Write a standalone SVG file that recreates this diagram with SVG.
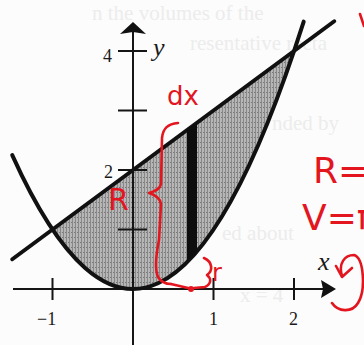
<svg xmlns="http://www.w3.org/2000/svg" width="364" height="345" viewBox="0 0 364 345">
<defs>
<style>
.axis{stroke:#151515;stroke-width:2;fill:none}
.curve{stroke:#111;stroke-width:4;fill:none;stroke-linecap:round}
.tick{stroke:#151515;stroke-width:2}
.lbl{font-family:"Liberation Serif",serif;font-size:18px;fill:#1a1a1a}
.var{font-family:"Liberation Serif",serif;font-style:italic;font-size:26px;fill:#1a1a1a}
.ghost{font-family:"Liberation Serif",serif;font-size:21px;fill:#ececec}
.red{font-family:"DejaVu Sans",sans-serif;fill:#e3161f}
.pen{stroke:#e3161f;stroke-width:2.6;fill:none;stroke-linecap:round;stroke-linejoin:round}
</style>
<pattern id="stipple" width="3" height="5" patternUnits="userSpaceOnUse">
<rect width="3" height="5" fill="#b6b6b6"/>
<rect x="0" y="0" width="1" height="5" fill="#888"/>
<rect x="2" y="2" width="1" height="1" fill="#777"/>
</pattern>
</defs>
<rect width="364" height="345" fill="#fcfcfc"/>
<g id="background-text">
<text class="ghost" x="92" y="20">n the volumes of the</text>
<text class="ghost" x="190" y="50">resentative recta</text>
<text class="ghost" x="272" y="130">nded by</text>
<text class="ghost" x="222" y="240">ed about</text>
<text class="ghost" x="240" y="302">x = 4</text>
</g>
<g id="region">
<path d="M52.5,229.5 Q173.25,408 294,51 Z" fill="url(#stipple)"/>
</g>
<g id="axes">
<line class="axis" x1="13" y1="289" x2="326" y2="289"/>
<polygon points="336,289 321,280 323,289 321,298" fill="#111"/>
<line class="axis" x1="133" y1="345" x2="133" y2="30"/>
<polygon points="133,22 120,34 133,32 146,34" fill="#111"/>
<line class="tick" x1="118" y1="51" x2="147" y2="51"/>
<line class="tick" x1="118" y1="110.5" x2="147" y2="110.5"/>
<line class="tick" x1="118" y1="170" x2="147" y2="170"/>
<line class="tick" x1="118" y1="229.5" x2="147" y2="229.5"/>
<line class="tick" x1="52.5" y1="278" x2="52.5" y2="300"/>
<line class="tick" x1="213.5" y1="278" x2="213.5" y2="300"/>
<line class="tick" x1="294" y1="278" x2="294" y2="300"/>
<text class="lbl" x="103" y="62">4</text>
<text class="lbl" x="104" y="178">2</text>
<text class="lbl" x="37" y="325">−1</text>
<text class="lbl" x="209" y="325">1</text>
<text class="lbl" x="289" y="325">2</text>
<text class="var" x="153" y="56">y</text>
<text class="var" x="318" y="270">x</text>
</g>
<g id="curves">
<path class="curve" d="M12.25,155.1 Q158,478.2 303.7,21.6"/>
<line class="curve" x1="12.25" y1="259.25" x2="334.25" y2="21.25"/>
</g>
<g id="rectangle">
<polygon points="187,130 197,122 197,252 187,262" fill="#0d0d0d"/>
</g>
<g id="annotations">
<text class="red" x="167" y="105" font-size="26">dx</text>
<path class="pen" d="M178,123 C168,124 163,128 162,138 L161,184 C160,189 156,191 149,193 C156,195 160,198 161,204 L159,240 C156,255 155,270 158,277 C161,282 165,284 171,284"/>
<circle cx="191" cy="289" r="3" fill="#e3161f"/>
<path class="pen" d="M171,284 L188,288 M194,288 L205,287 C211,284 212,279 207,275 C213,271 213,262 204,258"/>
<text class="red" x="212" y="281" font-size="24">r</text>
<text class="red" x="108" y="210" font-size="30">R</text>
<text class="red" x="313" y="183" font-size="36">R=</text>
<text class="red" x="302" y="230" font-size="36">V=π</text>
<path class="pen" d="M360,14 L364,26"/>
<path class="pen" d="M342,276 C338,263 345,255 354,255 C364,258 366,290 358,303 C352,313 338,312 332,303"/>
<path class="pen" d="M336,266 L342,277 L352,268"/>
</g>
</svg>
